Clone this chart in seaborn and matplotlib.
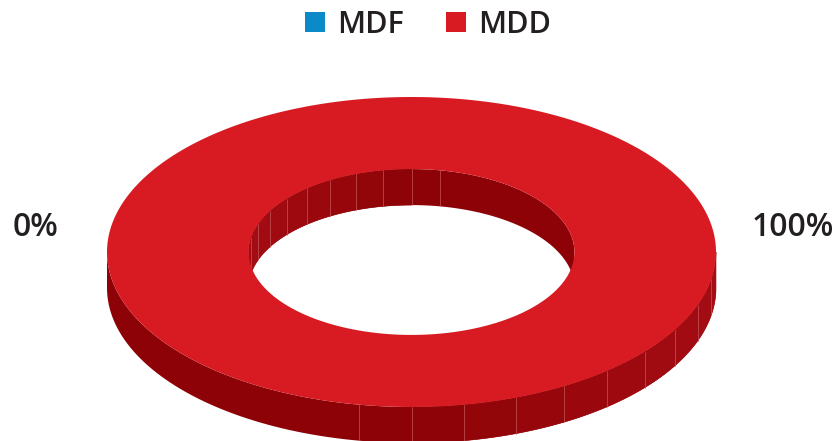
import numpy as np
import matplotlib
matplotlib.use("Agg")
import matplotlib.pyplot as plt
from matplotlib.patches import Polygon, Patch
import seaborn as sns

# Share of each product type
categories = ["MDF", "MDD"]
shares = [0, 100]
colors = ["#0A8AC6", "#D81B22"]
pct_labels = [f"{v:.0f}%" for v in shares]

sns.set_theme(style="white")
plt.rcParams["font.family"] = ["Open Sans", "DejaVu Sans"]

W, H = 838, 441
fig = plt.figure(figsize=(W / 100, H / 100), dpi=100)
ax = fig.add_axes([0, 0, 1, 1])
ax.set_xlim(0, W)
ax.set_ylim(H, 0)
ax.axis("off")

# ellipse geometry of the tilted ring (pixel units)
cx, cy = 411.5, 252.0
rx, ry = 304.5, 155.0
hole = 0.535
depth = 36.0
side_dark = np.array(matplotlib.colors.to_rgb("#8C0206"))
side_light = np.array(matplotlib.colors.to_rgb("#A50C13"))
line_col = "#C4585C"


def pt(theta, scale=1.0, dy=0.0):
    return cx + rx * scale * np.cos(theta), cy + ry * scale * np.sin(theta) + dy


def shade(t):
    t = float(np.clip(t, 0, 1))
    return tuple(side_dark + (side_light - side_dark) * t)


def wall(a, b, scale, **kw):
    t = np.linspace(a, b, 120)
    x, y = pt(t, scale)
    xs = np.r_[x, x[::-1]]
    ys = np.r_[y, (y + depth)[::-1]]
    return Polygon(np.column_stack([xs, ys]), closed=True, **kw)


total = float(sum(shares))
start = 0.0
step = np.deg2rad(10)
for cat, val, col in zip(categories, shares, colors):
    if val <= 0:
        continue
    th0 = start
    th1 = start + 2 * np.pi * val / total
    start = th1
    edges = np.arange(th0, th1 + 1e-9, step)
    if edges[-1] < th1:
        edges = np.append(edges, th1)

    # outer wall (front half), base in the dark tone
    lo, hi = max(th0, 0.0), min(th1, np.pi)
    if hi > lo:
        ax.add_patch(wall(lo, hi, 1.0, facecolor=side_dark, edgecolor="none", zorder=1))
    # lighter facets where the wall turns to the light
    for a, b in zip(edges[:-1], edges[1:]):
        m = 0.5 * (a + b)
        if np.sin(m) <= 0 or np.cos(m) <= 0:
            continue
        ax.add_patch(wall(a, b, 1.0, facecolor=shade(np.cos(m)),
                          edgecolor=shade(np.cos(m)), lw=0.4, zorder=1.2))
    for e in edges:
        if np.sin(e) > 0.02 and np.cos(e) > -0.25:
            x, y = pt(e)
            ax.plot([x, x], [y, y + depth], color=line_col, lw=0.5, zorder=1.5)

    # inner wall (back half) seen through the hole
    lo, hi = max(th0, np.pi), min(th1, 2 * np.pi)
    if hi > lo:
        ax.add_patch(wall(lo, hi, hole, facecolor=side_dark, edgecolor="none", zorder=2))
    for a, b in zip(edges[:-1], edges[1:]):
        m = 0.5 * (a + b)
        if np.sin(m) >= 0 or -np.cos(m) <= 0:
            continue
        ax.add_patch(wall(a, b, hole, facecolor=shade(-np.cos(m)),
                          edgecolor=shade(-np.cos(m)), lw=0.4, zorder=2.2))
    for e in edges:
        if np.sin(e) < -0.02 and np.cos(e) < 0.25:
            x, y = pt(e, hole)
            ax.plot([x, x], [y, y + depth], color=line_col, lw=0.5, zorder=2.5)

    # top face of the slice
    t = np.linspace(th0, th1, 400)
    ox, oy = pt(t)
    ix, iy = pt(t[::-1], hole)
    ax.add_patch(Polygon(np.column_stack([np.r_[ox, ix], np.r_[oy, iy]]),
                         closed=True, facecolor=col, edgecolor="none", zorder=3))

# percentage labels on either side of the ring
label_pos = [(36, 227), (793, 227)]
for (lx, ly), txt in zip(label_pos, pct_labels):
    ax.text(lx, ly, txt, ha="center", va="center", fontsize=23,
            fontweight="semibold", color="#231F20")

handles = [Patch(facecolor=c, edgecolor="none", label=n) for n, c in zip(categories, colors)]
fig.legend(handles=handles, loc="center", bbox_to_anchor=(428 / W, 1 - 25 / H),
           ncol=2, frameon=False, handlelength=0.65, handleheight=0.65,
           handletextpad=0.4, columnspacing=1.4, prop={"weight": "semibold", "size": 22},
           labelcolor="#231F20")

fig.savefig("out.png", dpi=100, facecolor="white")
